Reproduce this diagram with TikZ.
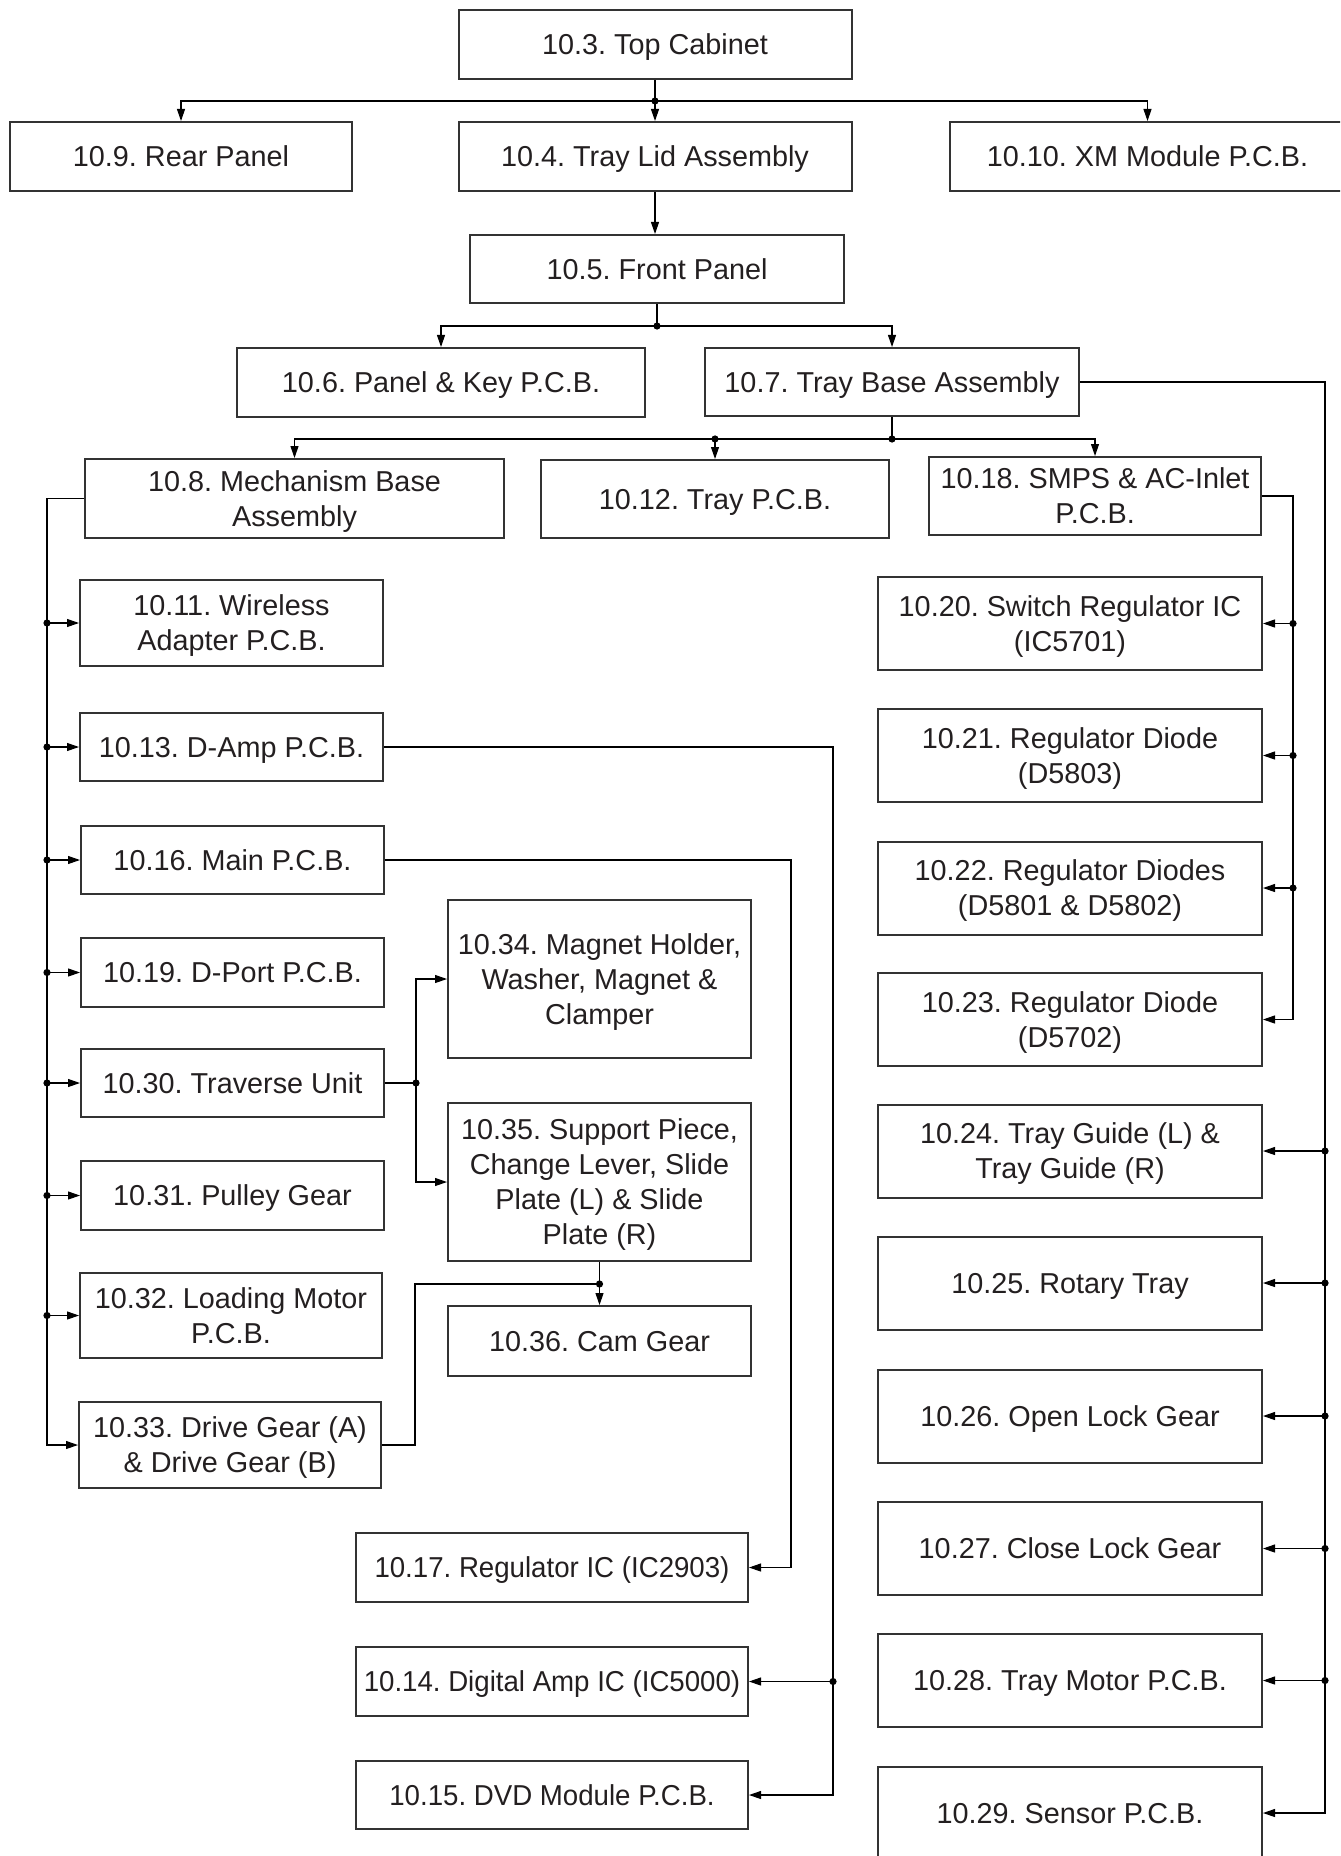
\documentclass[tikz,border=0pt]{standalone}
\usepackage{fontspec}
\setmainfont{Liberation Sans}
\usetikzlibrary{arrows.meta,calc}
\definecolor{boxc}{HTML}{333333}
\definecolor{txt}{HTML}{231F20}
\newcommand{\narrowtxt}[1]{\scalebox{0.96}[1]{#1}}
\begin{document}
\frenchspacing
\begin{tikzpicture}[x=0.5pt,y=-0.5pt,
 box/.style={draw=boxc,line width=1pt,inner sep=0pt,align=center,text=txt,text depth=0pt,
   font=\fontsize{14.4}{17.5}\selectfont\frenchspacing},
 conn/.style={line width=0.55pt,draw=black},
 arr/.style={conn,-{Triangle[length=6pt,width=4pt]}},
 jdot/.style={circle,fill=black,inner sep=0pt,minimum size=3.6pt}]
\useasboundingbox (0,0) rectangle (1340,1856);
\clip (0,0) rectangle (1340,1856);
% top rows
\node[box,minimum width=196.5pt,minimum height=34.5pt] (top) at (655,44.5) {10.3. Top Cabinet};
\node[box,minimum width=171pt,minimum height=34.5pt] (rear) at (181,156.5) {10.9. Rear Panel};
\node[box,minimum width=196.5pt,minimum height=34.5pt] (lid) at (655,156.5) {10.4. Tray Lid Assembly};
\node[box,minimum width=197.5pt,minimum height=34.5pt] (xm) at (1147.5,156.5) {10.10. XM Module P.C.B.};
\node[box,minimum width=187pt,minimum height=34pt] (front) at (657,269) {10.5. Front Panel};
\node[box,minimum width=204pt,minimum height=34.5pt] (key) at (441,382.5) {10.6. Panel \& Key P.C.B.};
\node[box,minimum width=187pt,minimum height=34pt] (base) at (892,382) {10.7. Tray Base Assembly};
\node[box,minimum width=209.5pt,minimum height=39.5pt] (mech) at (294.5,498.5) {10.8. Mechanism Base\\Assembly};
\node[box,minimum width=174pt,minimum height=39pt] (traypcb) at (715,499) {10.12. Tray P.C.B.};
\node[box,minimum width=166pt,minimum height=39pt] (smps) at (1095,496) {10.18. SMPS \& AC-Inlet\\P.C.B.};
% left column
\node[box,minimum width=151.5pt,minimum height=43pt] (wireless) at (231.5,623) {10.11. Wireless\\Adapter P.C.B.};
\node[box,minimum width=151.5pt,minimum height=34pt] (damp) at (231.5,747) {10.13. D-Amp P.C.B.};
\node[box,minimum width=151.5pt,minimum height=34pt] (main) at (232.5,860) {10.16. Main P.C.B.};
\node[box,minimum width=151.5pt,minimum height=34.5pt] (dport) at (232.5,972.5) {10.19. D-Port P.C.B.};
\node[box,minimum width=151.5pt,minimum height=34pt] (trav) at (232.5,1083) {10.30. Traverse Unit};
\node[box,minimum width=151.5pt,minimum height=34.5pt] (pulley) at (232.5,1195.5) {10.31. Pulley Gear};
\node[box,minimum width=151pt,minimum height=42.5pt] (loading) at (231,1315.5) {10.32. Loading Motor\\P.C.B.};
\node[box,minimum width=151pt,minimum height=43pt] (drive) at (230,1445) {10.33. Drive Gear (A)\\\& Drive Gear (B)};
% middle column
\node[box,minimum width=151.5pt,minimum height=79pt] (magnet) at (599.5,979) {10.34. Magnet Holder,\\Washer, Magnet \&\\Clamper};
\node[box,minimum width=151.5pt,minimum height=79pt] (support) at (599.5,1182) {10.35. Support Piece,\\Change Lever, Slide\\Plate (L) \& Slide\\Plate (R)};
\node[box,minimum width=151.5pt,minimum height=35pt] (cam) at (599.5,1341) {10.36. Cam Gear};
\node[box,minimum width=196pt,minimum height=34.5pt] (regic) at (552,1567.5) {\narrowtxt{10.17. Regulator IC (IC2903)}};
\node[box,minimum width=196pt,minimum height=34.5pt] (digamp) at (552,1681.5) {\narrowtxt{10.14. Digital Amp IC (IC5000)}};
\node[box,minimum width=196pt,minimum height=34pt] (dvd) at (552,1795) {\narrowtxt{10.15. DVD Module P.C.B.}};
% right column
\node[box,minimum width=192pt,minimum height=46.5pt] (r20) at (1070,623.5) {10.20. Switch Regulator IC\\(IC5701)};
\node[box,minimum width=192pt,minimum height=46.5pt] (r21) at (1070,755.5) {10.21. Regulator Diode\\(D5803)};
\node[box,minimum width=192pt,minimum height=46.5pt] (r22) at (1070,888) {10.22. Regulator Diodes\\(D5801 \& D5802)};
\node[box,minimum width=192pt,minimum height=46.5pt] (r23) at (1070,1019.5) {10.23. Regulator Diode\\(D5702)};
\node[box,minimum width=192pt,minimum height=46.5pt] (r24) at (1070,1151) {10.24. Tray Guide (L) \&\\Tray Guide (R)};
\node[box,minimum width=192pt,minimum height=46.5pt] (r25) at (1070,1283) {10.25. Rotary Tray};
\node[box,minimum width=192pt,minimum height=46.5pt] (r26) at (1070,1416) {10.26. Open Lock Gear};
\node[box,minimum width=192pt,minimum height=46.5pt] (r27) at (1070,1548.5) {10.27. Close Lock Gear};
\node[box,minimum width=192pt,minimum height=46.5pt] (r28) at (1070,1680.5) {10.28. Tray Motor P.C.B.};
\node[box,minimum width=192pt,minimum height=46.5pt] (r29) at (1070,1813) {10.29. Sensor P.C.B.};
% bus coordinates
\coordinate (rb) at (1325,0);
\coordinate (sb) at (1293,0);
\coordinate (lb) at (47,0);
\coordinate (db) at (833,0);
\coordinate (mb) at (791,0);
\coordinate (tb) at (416,0);
\coordinate (vb) at (415,0);
% top cabinet branch
\path (top.south) ++(0,21) coordinate (j1);
\draw[conn] (top.south) -- (j1);
\draw[arr] (j1) -| (rear.north);
\draw[arr] (j1) -- (lid.north);
\draw[arr] (j1) -| (xm.north);
\node[jdot] at (j1) {};
% lid to front
\draw[arr] (lid.south) -- (lid.south |- front.north);
% front panel branch
\path (front.south) ++(0,22) coordinate (j2);
\draw[conn] (front.south) -- (j2);
\draw[arr] (j2) -| (key.north);
\draw[arr] (j2) -| (base.north);
\node[jdot] at (j2) {};
% tray base branch
\path (base.south) ++(0,22) coordinate (j3);
\coordinate (j4) at (traypcb.north |- j3);
\draw[conn] (base.south) -- (j3);
\draw[arr] (j3) -| (mech.north);
\draw[arr] (j3) -| (smps.north);
\draw[arr] (j4) -- (traypcb.north);
\node[jdot] at (j3) {};
\node[jdot] at (j4) {};
% right bus from tray base
\draw[arr] (base.east) -| (rb |- r29.east) -- (r29.east);
\foreach \n in {r24,r25,r26,r27,r28}{
  \draw[arr] (rb |- \n.east) -- (\n.east);
  \node[jdot] at (rb |- \n.east) {};
}
% SMPS bus
\draw[arr] (smps.east) -| (sb |- r23.east) -- (r23.east);
\foreach \n in {r20,r21,r22}{
  \draw[arr] (sb |- \n.east) -- (\n.east);
  \node[jdot] at (sb |- \n.east) {};
}
% left bus from mechanism base
\draw[arr] (mech.west) -| (lb |- drive.west) -- (drive.west);
\foreach \n in {wireless,damp,main,dport,trav,pulley,loading}{
  \draw[arr] (lb |- \n.west) -- (\n.west);
  \node[jdot] at (lb |- \n.west) {};
}
% D-Amp
\draw[arr] (damp.east) -| (db |- dvd.east) -- (dvd.east);
\draw[arr] (db |- digamp.east) -- (digamp.east);
\node[jdot] at (db |- digamp.east) {};
% Main
\draw[arr] (main.east) -| (mb |- regic.east) -- (regic.east);
% Traverse
\coordinate (tj) at (tb |- trav.east);
\draw[conn] (trav.east) -- (tj);
\draw[arr] (tj) |- (magnet.west);
\draw[arr] (tj) |- (support.west);
\node[jdot] at (tj) {};
% Support to cam, drive gear join
\path (support.south) ++(0,22) coordinate (sj);
\draw[arr] (support.south) -- (cam.north);
\draw[conn] (drive.east) -| (vb |- sj) -- (sj);
\node[jdot] at (sj) {};
\end{tikzpicture}
\end{document}
